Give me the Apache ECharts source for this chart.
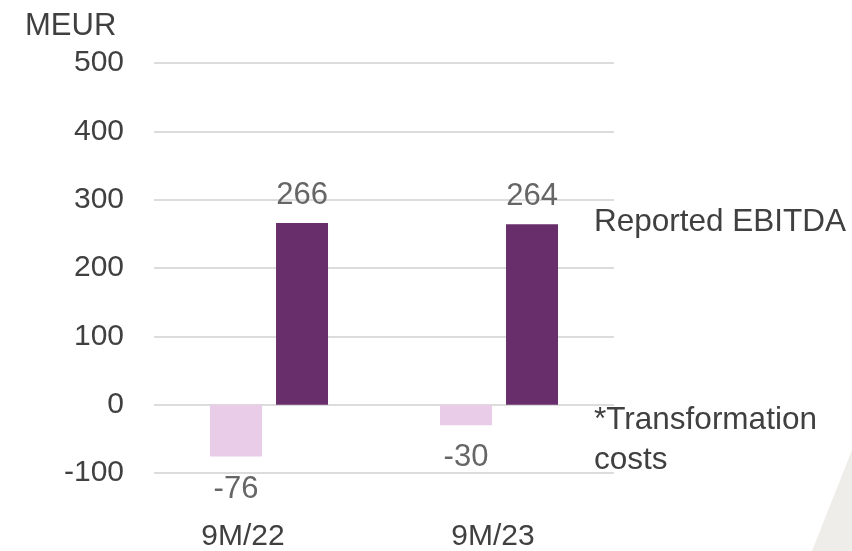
<!DOCTYPE html>
<html>
<head>
<meta charset="utf-8">
<script src="https://cdn.jsdelivr.net/npm/echarts@6/dist/echarts.min.js"></script>
<style>
  html, body { margin: 0; padding: 0; background: #ffffff; }
  #chart { width: 852px; height: 551px; }
</style>
</head>
<body>
<div id="chart"></div>
<script>
// periods on the x axis
const periods = ['9M/22', '9M/23']
// transformation costs (light bars, negative)
const transformationCosts = [-76, -30]
// reported EBITDA (dark bars)
const reportedEbitda = [266, 264]
const yTicks = { min: -100, max: 500, interval: 100 }

const fontFamily = '"Liberation Sans", Arial, sans-serif'
const textDark = '#404040'
const labelGrey = '#666666'

const chart = echarts.init(document.getElementById('chart'))

chart.setOption({
  animation: false,
  backgroundColor: '#ffffff',
  textStyle: { fontFamily: fontFamily },
  grid: { left: 154, right: 238, top: 63, bottom: 78, containLabel: false, outerBoundsMode: 'none' },
  xAxis: {
    type: 'category',
    data: periods,
    axisLine: { show: false, onZero: false },
    axisTick: { show: false },
    axisLabel: {
      color: textDark,
      fontSize: 30,
      margin: 49,
      fontFamily: fontFamily,
      // labels sit a bit left of the category centre in the original
      formatter: (v, i) => (i === 0 ? '{a|' + v + '}' : '{b|' + v + '}'),
      rich: {
        a: { fontSize: 30, color: textDark, padding: [0, 52, 0, 0] },
        b: { fontSize: 30, color: textDark, padding: [0, 12, 0, 0] }
      }
    }
  },
  yAxis: {
    type: 'value',
    min: yTicks.min,
    max: yTicks.max,
    interval: yTicks.interval,
    axisLine: { show: false },
    axisTick: { show: false },
    axisLabel: {
      color: textDark,
      fontSize: 30,
      margin: 30,
      padding: [4, 0, 0, 0],
      fontFamily: fontFamily
    },
    splitLine: { lineStyle: { color: '#dcdcdc', width: 2 } }
  },
  series: [
    {
      name: '*Transformation costs',
      type: 'bar',
      data: transformationCosts,
      barWidth: 52,
      barGap: '27%',
      itemStyle: { color: '#e8cce8' },
      label: {
        show: true,
        position: 'bottom',
        distance: 17,
        color: labelGrey,
        fontSize: 31,
        fontFamily: fontFamily
      }
    },
    {
      name: 'Reported EBITDA',
      type: 'bar',
      data: reportedEbitda,
      barWidth: 52,
      itemStyle: { color: '#682d6b' },
      label: {
        show: true,
        position: 'top',
        distance: 12,
        color: labelGrey,
        fontSize: 31,
        fontFamily: fontFamily
      }
    }
  ],
  graphic: [
    {
      type: 'polygon',
      silent: true,
      z: -10,
      shape: { points: [[812, 551], [852, 450], [852, 551]] },
      style: { fill: '#eeede9' }
    },
    {
      type: 'text',
      left: 25,
      top: 11,
      style: { text: 'MEUR', fill: textDark, font: '31px ' + fontFamily }
    },
    {
      type: 'text',
      left: 594,
      top: 206,
      style: { text: 'Reported EBITDA', fill: textDark, font: '31.5px ' + fontFamily }
    },
    {
      type: 'text',
      left: 594,
      top: 400,
      style: {
        text: '*Transformation\ncosts',
        fill: textDark,
        font: '31.5px ' + fontFamily,
        lineHeight: 40
      }
    }
  ]
})
</script>
</body>
</html>
